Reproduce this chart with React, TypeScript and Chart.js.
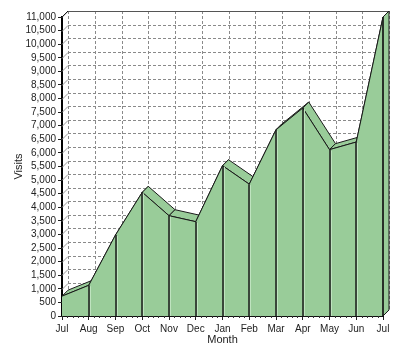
import React, { useEffect, useRef } from 'react';
import { Chart, registerables } from 'chart.js';

Chart.register(...registerables);

const months = ['Jul', 'Aug', 'Sep', 'Oct', 'Nov', 'Dec', 'Jan', 'Feb', 'Mar', 'Apr', 'May', 'Jun', 'Jul'];
const visits = [730, 1130, 2980, 4550, 3690, 3470, 5530, 4850, 6850, 7650, 6120, 6400, 11000];
const yMin = 0;
const yMax = 11000;
const yStep = 500;
const xTitle = 'Month';
const yTitle = 'Visits';

const DX = 6;
const DY = -6;
const GREEN = '#99cc99';
const EDGE = '#1a1a1a';
const FONT = 'Liberation Sans';

const depthPlugin = {
  id: 'depth3d',
  beforeDatasetsDraw(chart: any) {
    const { ctx, chartArea: a, scales } = chart;
    const x = scales.x;
    const y = scales.y;
    ctx.save();
    ctx.lineWidth = 1;
    ctx.strokeStyle = '#8a8a8a';
    ctx.setLineDash([3, 2]);
    y.ticks.forEach((t: any) => {
      const py = Math.round(y.getPixelForValue(t.value)) + 0.5;
      ctx.beginPath();
      ctx.moveTo(a.left + DX, py + DY);
      ctx.lineTo(a.right + DX, py + DY);
      ctx.stroke();
    });
    x.ticks.forEach((_t: any, i: number) => {
      const px = Math.round(x.getPixelForTick(i)) + 0.5;
      ctx.beginPath();
      ctx.moveTo(px + DX, a.top + DY);
      ctx.lineTo(px + DX, a.bottom + DY);
      ctx.stroke();
    });
    ctx.setLineDash([]);
    ctx.strokeStyle = '#9a9a9a';
    y.ticks.forEach((t: any) => {
      const py = Math.round(y.getPixelForValue(t.value)) + 0.5;
      ctx.beginPath();
      ctx.moveTo(a.left, py);
      ctx.lineTo(a.left + DX, py + DY);
      ctx.stroke();
    });
    ctx.strokeStyle = '#555';
    ctx.beginPath();
    ctx.moveTo(a.left + DX, Math.round(a.top) + DY + 0.5);
    ctx.lineTo(a.right + DX, Math.round(a.top) + DY + 0.5);
    ctx.stroke();
    ctx.strokeStyle = EDGE;
    ctx.beginPath();
    ctx.moveTo(a.left, a.top);
    ctx.lineTo(a.left + DX, a.top + DY);
    ctx.stroke();
    const meta = chart.getDatasetMeta(0);
    const pts = meta.data.map((p: any) => ({ x: p.x, y: p.y }));
    ctx.fillStyle = GREEN;
    ctx.strokeStyle = EDGE;
    ctx.lineWidth = 1;
    for (let i = 0; i < pts.length - 1; i++) {
      const p = pts[i];
      const q = pts[i + 1];
      ctx.beginPath();
      ctx.moveTo(p.x, p.y);
      ctx.lineTo(q.x, q.y);
      ctx.lineTo(q.x + DX, q.y + DY);
      ctx.lineTo(p.x + DX, p.y + DY);
      ctx.closePath();
      ctx.fill();
      ctx.stroke();
    }
    ctx.restore();
  },
  afterDatasetsDraw(chart: any) {
    const { ctx, chartArea: a } = chart;
    const meta = chart.getDatasetMeta(0);
    const pts = meta.data.map((p: any) => ({ x: p.x, y: p.y }));
    ctx.save();
    for (let i = 1; i < pts.length - 1; i++) {
      const px = Math.round(pts[i].x);
      ctx.strokeStyle = '#bfe3bf';
      ctx.lineWidth = 1;
      ctx.beginPath();
      ctx.moveTo(px + 1.5, pts[i].y + 1);
      ctx.lineTo(px + 1.5, a.bottom);
      ctx.stroke();
      ctx.strokeStyle = EDGE;
      ctx.lineWidth = 1.5;
      ctx.beginPath();
      ctx.moveTo(px, pts[i].y);
      ctx.lineTo(px, a.bottom);
      ctx.stroke();
    }
    const last = pts[pts.length - 1];
    ctx.fillStyle = GREEN;
    ctx.strokeStyle = EDGE;
    ctx.lineWidth = 1;
    ctx.beginPath();
    ctx.moveTo(last.x, last.y);
    ctx.lineTo(last.x + DX, last.y + DY);
    ctx.lineTo(last.x + DX, a.bottom + DY);
    ctx.lineTo(last.x, a.bottom);
    ctx.closePath();
    ctx.fill();
    ctx.stroke();
    ctx.lineWidth = 1.5;
    ctx.beginPath();
    ctx.moveTo(last.x, last.y);
    ctx.lineTo(last.x, a.bottom);
    ctx.stroke();
    ctx.restore();
  },
  afterDraw(chart: any) {
    const { ctx, chartArea: a, scales } = chart;
    const x = scales.x;
    ctx.save();
    ctx.strokeStyle = '#333';
    ctx.lineWidth = 1;
    for (let i = 0; i < months.length - 1; i++) {
      const p0 = x.getPixelForTick(i);
      const p1 = x.getPixelForTick(i + 1);
      for (let k = 1; k <= 4; k++) {
        const px = Math.round(p0 + ((p1 - p0) * k) / 5) + 0.5;
        ctx.beginPath();
        ctx.moveTo(px, a.bottom);
        ctx.lineTo(px, a.bottom + 2);
        ctx.stroke();
      }
    }
    ctx.restore();
  },
};

export default function App() {
  const ref = useRef<HTMLCanvasElement | null>(null);
  useEffect(() => {
    if (!ref.current) return;
    const chart = new Chart(ref.current, {
      type: 'line',
      data: {
        labels: months,
        datasets: [
          {
            data: visits,
            fill: 'origin',
            backgroundColor: GREEN,
            borderColor: EDGE,
            borderWidth: 1,
            pointRadius: 0,
            tension: 0,
          },
        ],
      },
      options: {
        animation: false,
        responsive: false,
        layout: { padding: { left: 0, top: 17, right: 17, bottom: 9 } },
        plugins: { legend: { display: false }, tooltip: { enabled: false } },
        scales: {
          x: {
            offset: false,
            grid: { display: true, drawOnChartArea: false, tickLength: 4, color: '#222' },
            border: { display: true, color: '#111', width: 1 },
            ticks: {
              autoSkip: false,
              maxRotation: 0,
              padding: 3,
              color: '#222',
              font: { family: FONT, size: 10 },
            },
            title: {
              display: true,
              text: xTitle,
              color: '#222',
              font: { family: FONT, size: 11 },
              padding: { top: 0, bottom: 0 },
            },
            afterFit(scale: any) {
              scale.height = 31;
            },
          },
          y: {
            min: yMin,
            max: yMax,
            grid: { display: true, drawOnChartArea: false, tickLength: 4, color: '#222' },
            border: { display: true, color: '#000', width: 2 },
            ticks: {
              stepSize: yStep,
              autoSkip: false,
              padding: 2,
              color: '#222',
              font: { family: FONT, size: 10 },
              callback: (v: any) => Number(v).toLocaleString('en-US'),
            },
            title: {
              display: true,
              text: yTitle,
              color: '#222',
              font: { family: FONT, size: 11 },
              padding: { top: 12, bottom: 0 },
            },
            afterFit(scale: any) {
              scale.width = 62;
            },
          },
        },
      },
      plugins: [depthPlugin],
    });
    return () => chart.destroy();
  }, []);
  return (
    <div style={{ position: 'absolute', left: 0, top: 0, width: 400, height: 356, background: '#fff' }}>
      <canvas ref={ref} width={400} height={356} style={{ display: 'block' }} />
    </div>
  );
}
